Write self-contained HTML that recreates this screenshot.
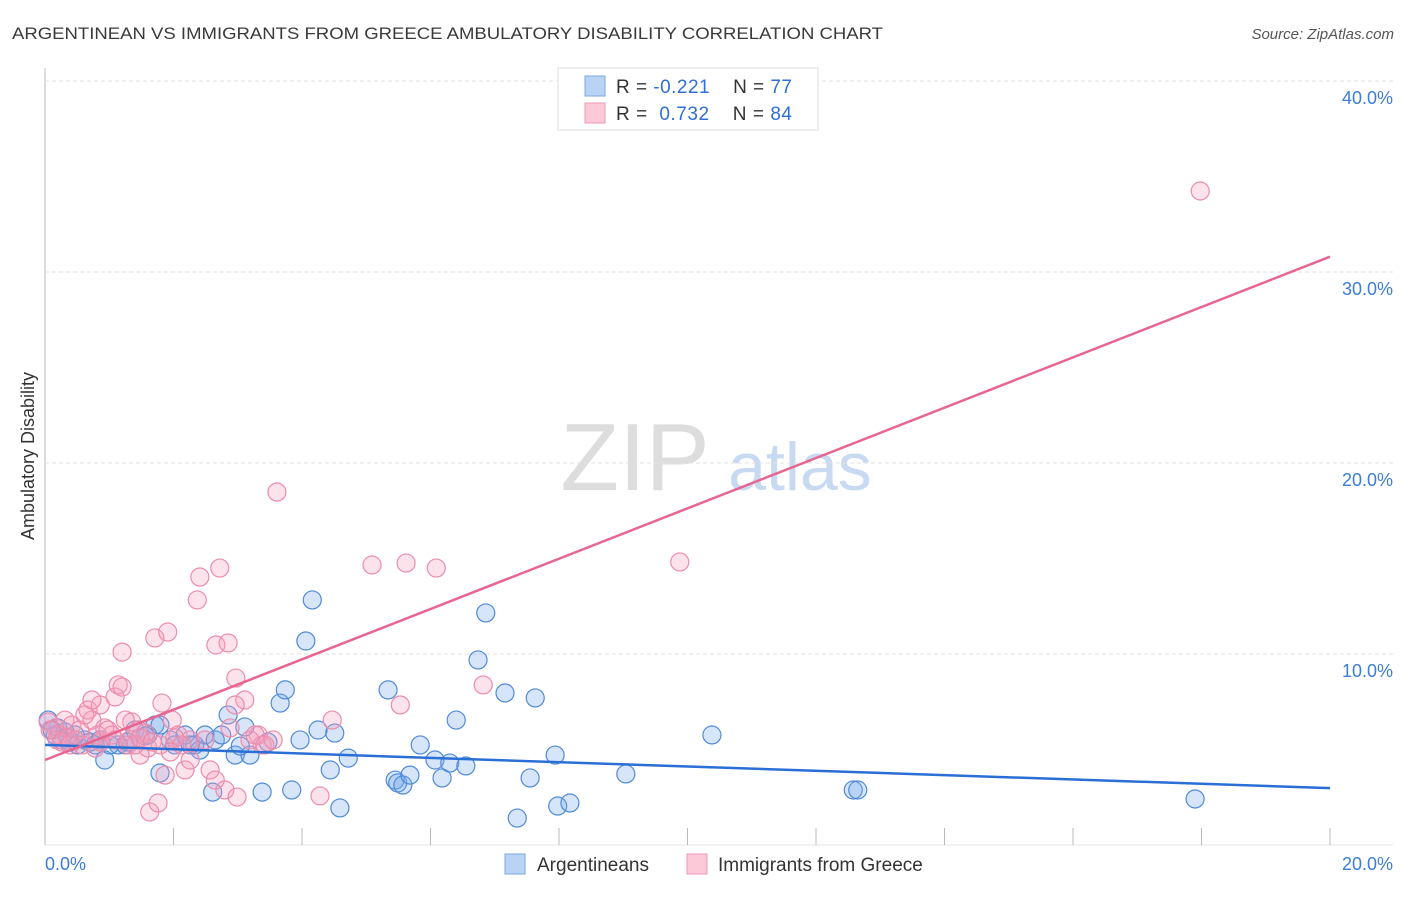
<!DOCTYPE html>
<html><head><meta charset="utf-8"><style>
body{margin:0;background:#fff;font-family:"Liberation Sans",sans-serif}
svg text{font-family:"Liberation Sans",sans-serif}
</style></head><body>
<svg id="chart" width="1406" height="892">
<text x="12" y="39" font-size="17" fill="#3a3a3a" textLength="871" lengthAdjust="spacingAndGlyphs">ARGENTINEAN VS IMMIGRANTS FROM GREECE AMBULATORY DISABILITY CORRELATION CHART</text>
<text x="1394" y="39" font-size="15" fill="#555" font-style="italic" text-anchor="end">Source: ZipAtlas.com</text>
<text x="34" y="456" font-size="18" fill="#333" text-anchor="middle" transform="rotate(-90 34 456)">Ambulatory Disability</text>
<g><text x="635" y="490" font-size="96" font-family="Liberation Serif" fill="#ddd" text-anchor="middle">ZIP</text><text x="800" y="490" font-size="68" fill="#c8daf2" text-anchor="middle">atlas</text></g>
<g id="grid"></g><g id="lines"></g><g id="pts"></g>
<g>
<rect x="558" y="68" width="260" height="62" fill="#fff" stroke="#ddd"/>
<rect x="585" y="76" width="20" height="20" fill="#b9d3f4" stroke="#7aa7e3"/>
<rect x="585" y="103" width="20" height="20" fill="#fcc9d8" stroke="#ee9ab4"/>
<text x="616" y="93" font-size="19" fill="#333" textLength="176" xml:space="preserve">R = <tspan fill="#2f6fd6">-0.221</tspan>    N = <tspan fill="#2f6fd6">77</tspan></text>
<text x="616" y="120" font-size="19" fill="#333" textLength="176" xml:space="preserve">R =  <tspan fill="#2f6fd6">0.732</tspan>    N = <tspan fill="#2f6fd6">84</tspan></text>
</g>
<g>
<rect x="505" y="854" width="20" height="20" fill="#b9d3f4" stroke="#7aa7e3"/>
<text x="537" y="871" font-size="19" fill="#333">Argentineans</text>
<rect x="687" y="854" width="20" height="20" fill="#fcc9d8" stroke="#ee9ab4"/>
<text x="718" y="871" font-size="19" fill="#333">Immigrants from Greece</text>
</g>
</svg>
<script>
const yTicks=[10,20,30,40];
const xTickLabels=["0.0%","20.0%"];
const blueX=[0.05,0.16,0.26,0.39,0.51,0.62,0.78,0.93,1.14,1.25,1.40,1.60,1.71,1.95,2.02,2.18,2.33,2.41,2.49,2.65,2.75,2.85,2.96,3.11,3.19,3.38,3.47,3.66,3.74,3.84,3.97,4.06,4.16,4.25,4.44,4.51,4.59,4.72,5.34,5.45,5.49,5.57,5.68,5.84,6.07,6.18,6.30,6.40,6.55,6.74,6.86,7.16,7.35,7.55,7.63,7.94,7.98,8.17,9.04,10.38,12.58,12.65,17.90,2.61,2.26,1.79,1.56,1.29,1.01,0.70,0.47,0.31,0.20,0.11,0.86,3.04,1.79];
const blueY=[6.54,5.76,5.50,5.39,5.24,5.50,5.24,4.45,5.24,5.24,6.02,5.76,6.28,5.50,5.24,5.76,5.24,4.97,5.76,5.50,5.76,6.81,4.71,6.18,4.71,2.77,5.39,7.43,8.12,2.88,5.50,10.68,12.83,6.02,3.93,5.86,1.94,4.55,8.12,3.40,3.25,3.14,3.66,5.24,4.45,3.51,4.29,6.54,4.14,9.69,12.15,7.96,1.41,3.51,7.70,4.71,2.04,2.20,3.72,5.76,2.88,2.88,2.41,2.77,5.24,3.77,5.71,5.39,5.24,5.39,5.76,5.92,6.13,6.02,5.50,5.18,6.28];
const pinkX=[0.05,0.16,0.23,0.31,0.42,0.54,0.67,0.73,0.82,0.93,1.04,1.09,1.14,1.20,1.20,1.29,1.35,1.45,1.48,1.56,1.60,1.63,1.71,1.76,1.79,1.82,1.87,1.91,1.98,2.07,2.18,2.26,2.37,2.41,2.57,2.65,2.66,2.72,2.80,2.85,2.88,2.97,2.99,3.11,3.32,3.38,3.61,4.28,4.47,5.09,5.53,5.62,6.09,6.82,9.88,17.98,0.08,0.19,0.26,0.36,0.47,0.58,0.78,0.86,0.98,1.32,1.40,1.48,2.02,2.13,2.26,2.49,1.95,1.67,1.25,1.09,0.86,0.73,0.62,0.39,2.96,3.19,3.27,3.42,3.55];
const pinkY=[6.44,6.13,5.76,6.54,6.28,6.02,7.07,6.54,5.76,6.13,5.76,7.75,8.38,8.27,10.10,5.24,6.44,6.02,4.71,5.86,5.08,1.73,10.84,2.20,5.24,7.43,3.66,11.15,6.54,5.76,3.93,5.50,12.83,14.03,3.93,3.40,10.47,14.50,2.88,10.58,6.13,8.74,2.51,7.59,5.76,5.24,18.48,2.57,6.54,14.66,7.33,14.76,14.50,8.38,14.82,34.24,6.02,5.50,5.39,5.60,5.50,5.24,5.08,5.39,6.02,5.50,5.24,5.60,5.60,5.24,4.45,5.50,4.87,5.39,6.54,5.50,7.33,7.59,6.81,5.24,7.33,5.50,5.76,5.24,5.50];
const blueTrend=[5.24,2.98];
const pinkTrend=[4.45,30.8];
const NS="http://www.w3.org/2000/svg";
const X=v=>45+v*64.25, Y=v=>845-v*19.1;
function mk(p,tag,a){const e=document.createElementNS(NS,tag);for(const k in a)e.setAttribute(k,a[k]);p.appendChild(e);return e;}
const g=document.getElementById('grid');
let ax=mk(g,'line',{x1:45,y1:68,x2:45,y2:845,stroke:'#bbb'});


let bx=mk(g,'line',{x1:45,y1:845,x2:1393,y2:845,stroke:'#e4e4e4'});


for(let i=0;i<=10;i++){const t=mk(g,'line',{x1:X(i*2),y1:828,x2:X(i*2),y2:845,stroke:'#bbb'});

}
yTicks.forEach(v=>{const l=mk(g,'line',{x1:45,y1:Y(v),x2:1393,y2:Y(v),stroke:'#e2e2e2','stroke-dasharray':'4,3'});


const t=mk(g,'text',{x:1393,y:Y(v)+23,'font-size':18,fill:'#3b7dd8','text-anchor':'end'});t.textContent=v.toFixed(1)+'%';

});
[[0,'start',45],[1,'end',1393]].forEach(([i,a,x])=>{const t=mk(g,'text',{x:x,y:870,'font-size':18,fill:'#3b7dd8','text-anchor':a});t.textContent=xTickLabels[i];

});
const P=document.getElementById('pts');
blueX.forEach((x,i)=>{const c=mk(P,'circle',{cx:X(x),cy:Y(blueY[i]),r:9,fill:'rgba(120,170,235,0.3)',stroke:'#4f8ad9','stroke-width':1.2});

});
pinkX.forEach((x,i)=>{const c=mk(P,'circle',{cx:X(x),cy:Y(pinkY[i]),r:9,fill:'rgba(245,160,190,0.3)',stroke:'#ec8cab','stroke-width':1.2});

});
const L=document.getElementById('lines');
let bl=mk(L,'line',{x1:X(0),y1:Y(blueTrend[0]),x2:X(20),y2:Y(blueTrend[1]),stroke:'#2a6fd6','stroke-width':2.5});


let pl=mk(L,'line',{x1:X(0),y1:Y(pinkTrend[0]),x2:X(20),y2:Y(pinkTrend[1]),stroke:'#e8658f','stroke-width':2.5});


document.getElementById('chart').appendChild(L);
</script>
</body></html>
